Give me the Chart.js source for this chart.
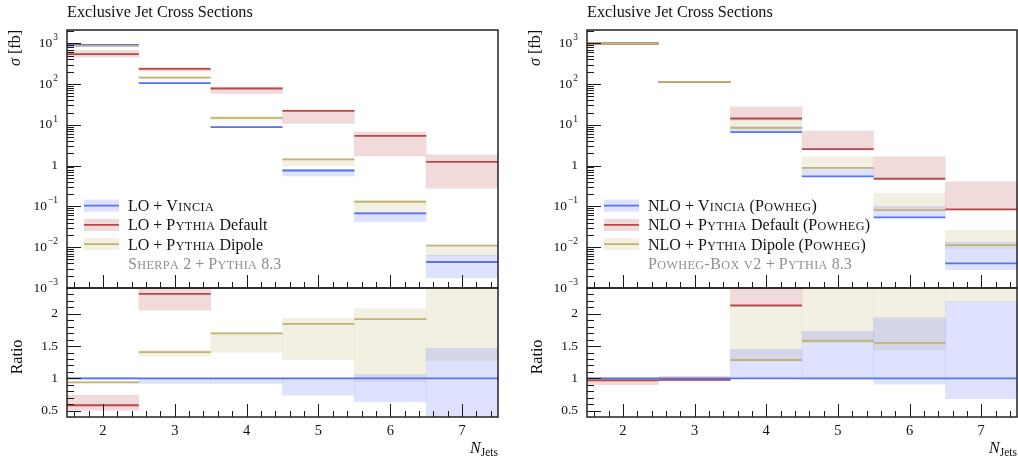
<!DOCTYPE html>
<html>
<head>
<meta charset="utf-8">
<script src="https://cdn.jsdelivr.net/npm/chart.js@4.4.0/dist/chart.umd.min.js"></script>
<style>
  body { margin: 0; background: #fff; }
  #wrap { position: relative; width: 1018px; height: 459px; }
  #wrap canvas { position: absolute; left: 0; top: 0; }
</style>
</head>
<body>
<div id="wrap">
  <canvas id="loTop" width="1018" height="459"></canvas>
  <canvas id="loRatio" width="1018" height="459"></canvas>
  <canvas id="nloTop" width="1018" height="459"></canvas>
  <canvas id="nloRatio" width="1018" height="459"></canvas>
</div>
<script>
/* === Exclusive jet cross sections : LO (gauche) / NLO (droite) === */

const BINS = [2, 3, 4, 5, 6, 7];
const X_TICK_LABELS = ['2', '3', '4', '5', '6', '7'];
const LOG_TICKS = [1e-3, 1e-2, 1e-1, 1, 10, 100, 1000];
const LOG_TICK_LABELS = ['10^\u22123', '10^\u22122', '10^\u22121', '1', '10^1', '10^2', '10^3'];
const RATIO_TICKS = [0.5, 1, 1.5, 2];
const RATIO_TICK_LABELS = ['0.5', '1', '1.5', '2'];

// --- LO, sigma [fb]
const loVincia      = [910, 105, 8.8, 0.76, 0.0675, 0.00434];
const loVinciaDown  = [880, 101, 8.5, 0.56, 0.043, 0.0018];
const loVinciaUp    = [935, 109, 9.1, 0.81, 0.072, 0.0063];
const loDefault     = [538, 235, 77.6, 22, 5.38, 1.24];
const loDefaultDown = [454, 210, 58.5, 10.8, 1.74, 0.28];
const loDefaultUp   = [661, 254, 83.6, 23.3, 6.6, 1.84];
const loDipole      = [861, 144, 14.8, 1.42, 0.13, 0.0109];
const loDipoleDown  = [835, 139, 13, 0.99, 0.068, 0.0061];
const loDipoleUp    = [885, 150, 16, 1.5, 0.138, 0.0116];

// --- LO, ratio
const loRVincia      = [1, 1, 1, 1, 1, 1];
const loRVinciaDown  = [0.985, 0.92, 0.92, 0.737, 0.639, 0.3];
const loRVinciaUp    = [1.015, 1.0, 1.0, 1.0, 1.057, 1.464];
const loRDefault     = [0.582, 2.309, 8.8, 29, 80, 286];
const loRDefaultDown = [0.505, 2.057, 6.7, 14, 26, 65];
const loRDefaultUp   = [0.737, 2.5, 9.5, 31, 98, 420];
const loRDipole      = [0.938, 1.407, 1.696, 1.845, 1.918, 2.51];
const loRDipoleDown  = [0.93, 1.345, 1.407, 1.284, 0.943, 1.268];
const loRDipoleUp    = [0.945, 1.43, 1.706, 1.928, 2.077, 2.7];

// --- NLO, sigma [fb]
const nloVincia      = [1000, 113, 6.61, 0.543, 0.0538, 0.00402];
const nloVinciaDown  = [975, 110, 6.4, 0.543, 0.0538, 0.0028];
const nloVinciaUp    = [1025, 116, 9.0, 0.83, 0.1, 0.0134];
const nloDefault     = [985, 113, 14.3, 2.54, 0.476, 0.0845];
const nloDefaultDown = [955, 110, 13, 2.54, 0.476, 0.081];
const nloDefaultUp   = [1010, 116, 27.6, 7.0, 1.64, 0.402];
const nloDipole      = [1000, 113, 8.45, 0.885, 0.0813, 0.0113];
const nloDipoleDown  = [975, 110, 7.9, 0.86, 0.081, 0.0094];
const nloDipoleUp    = [1025, 116, 13.2, 1.64, 0.212, 0.0264];

// --- NLO, ratio
const nloRVincia      = [1, 1, 1, 1, 1, 1];
const nloRVinciaDown  = [0.99, 0.99, 1.0, 0.985, 0.91, 0.686];
const nloRVinciaUp    = [1.01, 1.01, 1.448, 1.73, 1.938, 2.19];
const nloRDefault     = [0.969, 0.975, 2.129, 4.7, 8.8, 21];
const nloRDefaultDown = [0.9, 0.97, 2.129, 4.7, 8.8, 20];
const nloRDefaultUp   = [0.99, 1.03, 4.2, 12.9, 30, 100];
const nloRDipole      = [0.99, 0.985, 1.284, 1.582, 1.55, 2.8];
const nloRDipoleDown  = [0.98, 0.98, 1.268, 1.55, 1.44, 2.19];
const nloRDipoleUp    = [1.0, 1.0, 2.129, 2.7, 2.7, 6.6];

const LO_LABELS = ['LO + {Vincia}', 'LO + {Pythia} Default', 'LO + {Pythia} Dipole'];
const LO_CAPTION = '{Sherpa} 2 + {Pythia} 8.3';
const NLO_LABELS = ['NLO + {Vincia} ({Powheg})', 'NLO + {Pythia} Default ({Powheg})', 'NLO + {Pythia} Dipole ({Powheg})'];
const NLO_CAPTION = '{Powheg-Box v2} + {Pythia} 8.3';
const TITLE = 'Exclusive Jet Cross Sections';

const SERIF = "'Liberation Serif', 'DejaVu Serif', serif";
const BLUE = 'rgb(85,115,242)', BLUE_BAND = 'rgba(90,110,250,0.2)';
const RED = 'rgb(182,72,72)', RED_BAND = 'rgba(180,70,70,0.2)';
const DIP = 'rgb(192,180,112)', DIP_BAND = 'rgba(190,180,110,0.2)';

// minor ticks
const LOG_MINOR = [];
for (let k = -3; k <= 3; k++) for (let m = 2; m <= 9; m++) LOG_MINOR.push(m * Math.pow(10, k));
const RATIO_MINOR = [];
for (let i = 5; i <= 23; i++) if (i % 5) RATIO_MINOR.push(i / 10);
const X_MINOR = [];
for (let i = 16; i <= 74; i += 2) if (i % 10) X_MINOR.push(i / 10);

function font(size, italic) {
  return (italic ? 'italic ' : '') + size + 'px ' + SERIF;
}

function seg(ctx, x1, y1, x2, y2) {
  ctx.beginPath(); ctx.moveTo(x1, y1); ctx.lineTo(x2, y2); ctx.stroke();
}

// texte avec petites capitales entre accolades
function drawSmallCaps(ctx, str, x, y, size) {
  let sc = false;
  str.split(/([{}])/).forEach(p => {
    if (p === '{') { sc = true; return; }
    if (p === '}') { sc = false; return; }
    for (const ch of p) {
      let s = size, c = ch;
      if (sc && ch !== ch.toUpperCase()) { s = size * 0.76; c = ch.toUpperCase(); }
      ctx.font = font(s);
      ctx.fillText(c, x, y);
      x += ctx.measureText(c).width + (sc ? 0.4 : 0);
    }
  });
  return x;
}

// label "10^3" avec exposant, aligné à droite
function drawPow(ctx, label, xRight, y, size) {
  const [base, exp] = label.split('^');
  ctx.textAlign = 'left';
  ctx.textBaseline = 'middle';
  let we = 0;
  if (exp) { ctx.font = font(size * 0.7); we = ctx.measureText(exp).width + 1; }
  ctx.font = font(size);
  const wb = ctx.measureText(base).width;
  ctx.fillText(base, xRight - we - wb, y);
  if (exp) { ctx.font = font(size * 0.7); ctx.fillText(exp, xRight - we + 1, y - size * 0.42); }
}

const frameAxes = {
  id: 'frameAxes',
  afterDraw(chart, args, o) {
    const { ctx, chartArea: a } = chart;
    const xs = chart.scales.x, ys = chart.scales.y;
    ctx.save();
    ctx.strokeStyle = '#1a1a1a';
    ctx.lineWidth = 1;

    // ticks vers l'intérieur
    o.yMinor.forEach(v => {
      if (v <= ys.min || v >= ys.max) return;
      const p = Math.round(ys.getPixelForValue(v)) + 0.5;
      seg(ctx, a.left, p, a.left + 7, p);
    });
    o.yMajor.forEach(v => {
      const p = Math.round(ys.getPixelForValue(v)) + 0.5;
      seg(ctx, a.left, p, a.left + 14, p);
    });
    X_MINOR.forEach(v => {
      const p = Math.round(xs.getPixelForValue(v)) + 0.5;
      seg(ctx, p, a.bottom, p, a.bottom - 6);
    });
    BINS.forEach(v => {
      const p = Math.round(xs.getPixelForValue(v)) + 0.5;
      seg(ctx, p, a.bottom, p, a.bottom - 13);
    });

    // cadre
    ctx.lineWidth = 1.5;
    ctx.strokeStyle = '#222';
    ctx.strokeRect(a.left, a.top, a.right - a.left, a.bottom - a.top);

    // labels de l'axe y
    ctx.fillStyle = '#111';
    o.yMajor.forEach((v, i) => drawPow(ctx, o.yLabels[i], a.left - 9, ys.getPixelForValue(v), 13.5));

    // titre de l'axe y (vertical)
    ctx.save();
    if (o.top) {
      ctx.translate(a.left - 51, a.top);
      ctx.rotate(-Math.PI / 2);
      ctx.textBaseline = 'middle';
      ctx.textAlign = 'left';
      ctx.font = font(16);
      const w2 = ctx.measureText(' [fb]').width;
      ctx.font = font(16, true);
      const w1 = ctx.measureText('\u03c3').width;
      ctx.fillText('\u03c3', -w1 - w2, 0);
      ctx.font = font(16);
      ctx.fillText(' [fb]', -w2, 0);
    } else {
      ctx.translate(a.left - 49, 357);
      ctx.rotate(-Math.PI / 2);
      ctx.textBaseline = 'middle';
      ctx.textAlign = 'center';
      ctx.font = font(16);
      ctx.fillText('Ratio', 0, 0);
    }
    ctx.restore();

    if (o.top) {
      // titre
      ctx.textAlign = 'left';
      ctx.textBaseline = 'alphabetic';
      ctx.font = font(16.2);
      ctx.fillText(TITLE, a.left, 17);

      // légende
      const L = o.legend;
      L.labels.forEach((t, i) => {
        const cy = L.y + i * 19.2;
        ctx.fillStyle = L.bands[i];
        ctx.fillRect(L.x, cy - 6, 35, 12);
        ctx.strokeStyle = L.lines[i];
        ctx.lineWidth = 1.8;
        seg(ctx, L.x, cy, L.x + 35, cy);
        ctx.fillStyle = '#111';
        drawSmallCaps(ctx, t, L.x + 44, cy + 5.5, 16);
      });
      ctx.fillStyle = '#8f8f8f';
      drawSmallCaps(ctx, L.caption, L.x + 44, L.y + 3 * 19.2 + 6, 16);
    } else {
      // labels de l'axe x
      ctx.textAlign = 'center';
      ctx.textBaseline = 'middle';
      ctx.font = font(14.5);
      BINS.forEach((v, i) => ctx.fillText(X_TICK_LABELS[i], xs.getPixelForValue(v), 431));
      ctx.textAlign = 'left';
      ctx.textBaseline = 'alphabetic';
      ctx.font = font(11.5);
      const wj = ctx.measureText('Jets').width;
      ctx.font = font(16, true);
      const wn = ctx.measureText('N').width;
      ctx.fillText('N', a.right - wj - wn, 453);
      ctx.font = font(11.5);
      ctx.fillText('Jets', a.right - wj, 456);
    }
    ctx.restore();
  }
};

function bandSet(lo, hi, color) {
  return {
    type: 'bar',
    data: BINS.map((b, i) => ({ x: b, y: [lo[i], hi[i]] })),
    backgroundColor: color,
    borderWidth: 0,
    barPercentage: 1,
    categoryPercentage: 1,
    grouped: false,
    order: 2,
    clip: 0
  };
}

// order plus petit = dessiné par-dessus
function lineSet(vals, color, order) {
  const pts = [];
  BINS.forEach((b, i) => {
    pts.push({ x: b - 0.5, y: vals[i] }, { x: b + 0.5, y: vals[i] }, { x: b + 0.5, y: null });
  });
  return {
    type: 'line',
    data: pts,
    borderColor: color,
    borderWidth: 1.8,
    pointRadius: 0,
    spanGaps: false,
    order: order,
    clip: 0
  };
}

function makeChart(id, pad, yScale, datasets, axes) {
  return new Chart(document.getElementById(id), {
    type: 'line',
    data: { datasets },
    options: {
      responsive: false,
      animation: false,
      events: [],
      layout: { padding: pad },
      scales: {
        x: {
          type: 'linear', min: 1.5, max: 7.5, bounds: 'data', offset: false, display: false,
          afterBuildTicks: s => { s.ticks = BINS.map(v => ({ value: v })); }
        },
        y: Object.assign({ display: false, bounds: 'data' }, yScale)
      },
      plugins: {
        legend: { display: false },
        tooltip: { enabled: false },
        frameAxes: axes
      }
    },
    plugins: [frameAxes]
  });
}

const logY = { type: 'logarithmic', min: 1e-3, max: 2110 };
const ratioY = { type: 'linear', min: 0.4, max: 2.4 };

const logAxes = (legend) => ({ top: true, yMajor: LOG_TICKS, yMinor: LOG_MINOR, yLabels: LOG_TICK_LABELS, legend });
const ratioAxes = { top: false, yMajor: RATIO_TICKS, yMinor: RATIO_MINOR, yLabels: RATIO_TICK_LABELS };

// === panneau gauche : LO ===
makeChart('loTop', { left: 67, top: 30, right: 520, bottom: 171 }, logY, [
  bandSet(loVinciaDown, loVinciaUp, BLUE_BAND),
  bandSet(loDefaultDown, loDefaultUp, RED_BAND),
  bandSet(loDipoleDown, loDipoleUp, DIP_BAND),
  lineSet(loVincia, BLUE, 1.3),
  lineSet(loDefault, RED, 1.2),
  lineSet(loDipole, DIP, 1.1)
], logAxes({ x: 84, y: 205.7, labels: LO_LABELS, caption: LO_CAPTION,
  bands: [BLUE_BAND, RED_BAND, DIP_BAND], lines: [BLUE, RED, DIP] }));

makeChart('loRatio', { left: 67, top: 288, right: 520, bottom: 42 }, ratioY, [
  bandSet(loRVinciaDown, loRVinciaUp, BLUE_BAND),
  bandSet(loRDefaultDown, loRDefaultUp, RED_BAND),
  bandSet(loRDipoleDown, loRDipoleUp, DIP_BAND),
  lineSet(loRVincia, BLUE, 1.1),
  lineSet(loRDefault, RED, 1.2),
  lineSet(loRDipole, DIP, 1.3)
], ratioAxes);

// === panneau droit : NLO ===
makeChart('nloTop', { left: 587, top: 30, right: 1, bottom: 171 }, logY, [
  bandSet(nloVinciaDown, nloVinciaUp, BLUE_BAND),
  bandSet(nloDefaultDown, nloDefaultUp, RED_BAND),
  bandSet(nloDipoleDown, nloDipoleUp, DIP_BAND),
  lineSet(nloVincia, BLUE, 1.3),
  lineSet(nloDefault, RED, 1.2),
  lineSet(nloDipole, DIP, 1.1)
], logAxes({ x: 604, y: 205.7, labels: NLO_LABELS, caption: NLO_CAPTION,
  bands: [BLUE_BAND, RED_BAND, DIP_BAND], lines: [BLUE, RED, DIP] }));

makeChart('nloRatio', { left: 587, top: 288, right: 1, bottom: 42 }, ratioY, [
  bandSet(nloRVinciaDown, nloRVinciaUp, BLUE_BAND),
  bandSet(nloRDefaultDown, nloRDefaultUp, RED_BAND),
  bandSet(nloRDipoleDown, nloRDipoleUp, DIP_BAND),
  lineSet(nloRVincia, BLUE, 1.1),
  lineSet(nloRDefault, RED, 1.2),
  lineSet(nloRDipole, DIP, 1.3)
], ratioAxes);
</script>
</body>
</html>
